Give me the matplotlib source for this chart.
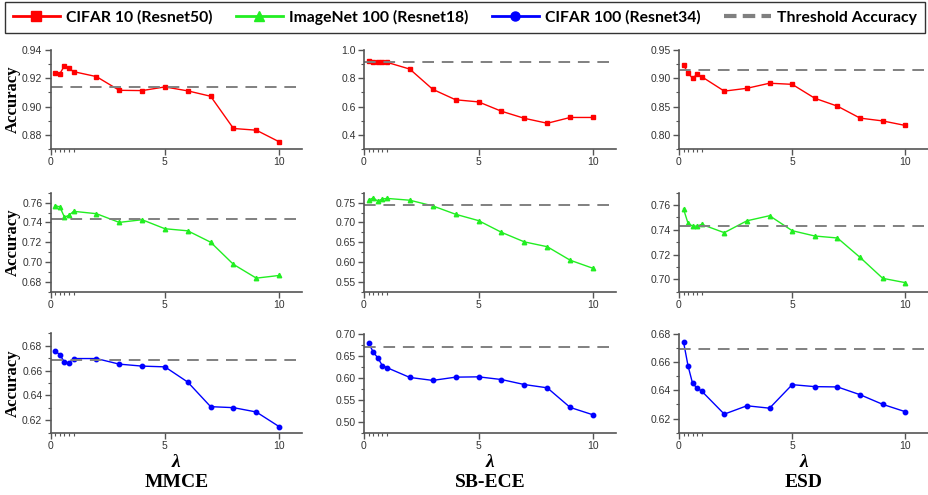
import matplotlib.pyplot as plt
import numpy as np

# lambda values (same for every panel)
lam = [0.2, 0.4, 0.6, 0.8, 1, 2, 3, 4, 5, 6, 7, 8, 9, 10]

# CIFAR 10 (Resnet50)
c10_mmce = [0.924, 0.9233, 0.9287, 0.927, 0.9247, 0.9212, 0.9115, 0.9113, 0.9139, 0.9111, 0.9073, 0.8845, 0.8833, 0.8751]
c10_sbece = [0.921, 0.913, 0.917, 0.913, 0.913, 0.865, 0.722, 0.648, 0.633, 0.567, 0.517, 0.482, 0.523, 0.523]
c10_esd = [0.9234, 0.9094, 0.8998, 0.9074, 0.9029, 0.8773, 0.8823, 0.8913, 0.8893, 0.8647, 0.8507, 0.8296, 0.8246, 0.8166]

# ImageNet 100 (Resnet18)
in_mmce = [0.757, 0.7556, 0.7454, 0.7471, 0.7512, 0.7488, 0.740, 0.7427, 0.7336, 0.7315, 0.720, 0.6976, 0.6837, 0.6864]
in_sbece = [0.756, 0.762, 0.7538, 0.759, 0.7606, 0.756, 0.7417, 0.7205, 0.7045, 0.675, 0.6508, 0.6386, 0.6045, 0.584]
in_esd = [0.7568, 0.7452, 0.743, 0.743, 0.7444, 0.7377, 0.7473, 0.7514, 0.7393, 0.735, 0.7334, 0.7177, 0.7008, 0.6973]

# CIFAR 100 (Resnet34)
c100_mmce = [0.6757, 0.673, 0.6669, 0.6663, 0.6698, 0.6698, 0.6653, 0.6637, 0.6631, 0.6508, 0.631, 0.6302, 0.6267, 0.6149]
c100_sbece = [0.6785, 0.6582, 0.6448, 0.6273, 0.6226, 0.6003, 0.5936, 0.601, 0.6017, 0.5956, 0.5842, 0.5768, 0.5323, 0.5155]
c100_esd = [0.6741, 0.6571, 0.6448, 0.6415, 0.6394, 0.6231, 0.629, 0.6273, 0.6439, 0.6425, 0.6423, 0.6368, 0.630, 0.6248]

# threshold accuracy per dataset
thresholds = [0.914, 0.743, 0.669]

metodos = ["MMCE", "SB-ECE", "ESD"]
series = [[c10_mmce, c10_sbece, c10_esd],
          [in_mmce, in_sbece, in_esd],
          [c100_mmce, c100_sbece, c100_esd]]
nombres = ["CIFAR 10 (Resnet50)", "ImageNet 100 (Resnet18)", "CIFAR 100 (Resnet34)"]
colores = ["#ff0000", "#22ee22", "#0000ff"]
marcadores = ["s", "^", "o"]

ylims = [[(0.87, 0.94), (0.4, 1.0), (0.80, 0.95)],
         [(0.67, 0.77), (0.55, 0.775), (0.69, 0.77)],
         [(0.61, 0.69), (0.50, 0.70), (0.61, 0.68)]]
yticks = [[np.arange(0.88, 0.941, 0.02), np.arange(0.4, 1.01, 0.2), np.arange(0.80, 0.951, 0.05)],
          [np.arange(0.68, 0.761, 0.02), np.arange(0.55, 0.751, 0.05), np.arange(0.70, 0.761, 0.02)],
          [np.arange(0.62, 0.681, 0.02), np.arange(0.50, 0.701, 0.05), np.arange(0.62, 0.681, 0.02)]]
yfmt = [["%.2f", "%.1f", "%.2f"], ["%.2f", "%.2f", "%.2f"], ["%.2f", "%.2f", "%.2f"]]

W, H = 929, 495
fig = plt.figure(figsize=(W / 100, H / 100), dpi=100)

col_px = [(50.7, 302), (364, 616), (679, 928)]
row_px = [(50, 149), (192.7, 291.7), (333.5, 432.7)]

for i in range(3):
    for j in range(3):
        l, r = col_px[j]
        t, b = row_px[i]
        ax = fig.add_axes([l / W, 1 - b / H, (r - l) / W, (b - t) / H])
        ax.plot(lam, series[i][j], color=colores[i], marker=marcadores[i], markersize=3.2, lw=1)
        ax.axhline(thresholds[i], color="#808080", lw=1.4, dashes=(6, 4))
        ax.set_xlim(0, 11)
        ax.set_ylim(*ylims[i][j])
        ax.set_xticks([0, 5, 10])
        ax.set_xticks([0.2, 0.4, 0.6, 0.8, 1.0], minor=True)
        ax.set_yticks(yticks[i][j])
        ax.set_yticklabels([yfmt[i][j] % v for v in yticks[i][j]])
        ys = yticks[i][j]
        paso = ys[1] - ys[0]
        ax.set_yticks(np.arange(ys[0] - paso / 2, ylims[i][j][1] + 1e-9, paso / 2), minor=True)
        for s in ["top", "right"]:
            ax.spines[s].set_visible(False)
        for s in ["left", "bottom"]:
            ax.spines[s].set_color("#555555")
            ax.spines[s].set_linewidth(1.2)
        ax.tick_params(which="major", length=4, width=1, color="#555555", labelsize=7.5, labelcolor="#333333", pad=2)
        ax.tick_params(which="minor", length=2.5, width=0.8, color="#555555")
        for lbl in ax.get_xticklabels() + ax.get_yticklabels():
            lbl.set_family("Liberation Sans")
        if j == 0:
            ax.set_ylabel("Accuracy", family="Liberation Serif", fontweight="bold", fontsize=12)
            ax.yaxis.set_label_coords(-0.12, 0.5)
        if i == 2:
            ax.set_xlabel("λ", family="Liberation Serif", fontweight="bold", style="italic",
                          fontsize=14, labelpad=2)
            ax.text(0.5, -0.497, metodos[j], transform=ax.transAxes, ha="center", va="center",
                    family="Liberation Serif", fontweight="bold", fontsize=14)

# leyenda
handles = []
for n, c, m in zip(nombres, colores, marcadores):
    h, = plt.plot([], [], color=c, marker=m, markersize=6.5, lw=2, label=n)
    handles.append(h)
h, = plt.plot([], [], color="#808080", lw=3, dashes=(3, 1.5), label="Threshold Accuracy")
handles.append(h)
leg = fig.legend(handles=handles, loc="upper left", mode="expand",
                 bbox_to_anchor=(5 / W, 1 - 2 / H, 920 / W, 0.0), ncol=4,
                 frameon=True, fancybox=False, edgecolor="black", handlelength=3.0,
                 columnspacing=0.4, handletextpad=0.4, borderpad=0.5, borderaxespad=0,
                 prop={"family": "Lato", "weight": "bold", "size": 11.3})
leg.get_frame().set_linewidth(1)

fig.savefig("out.png", dpi=100)
